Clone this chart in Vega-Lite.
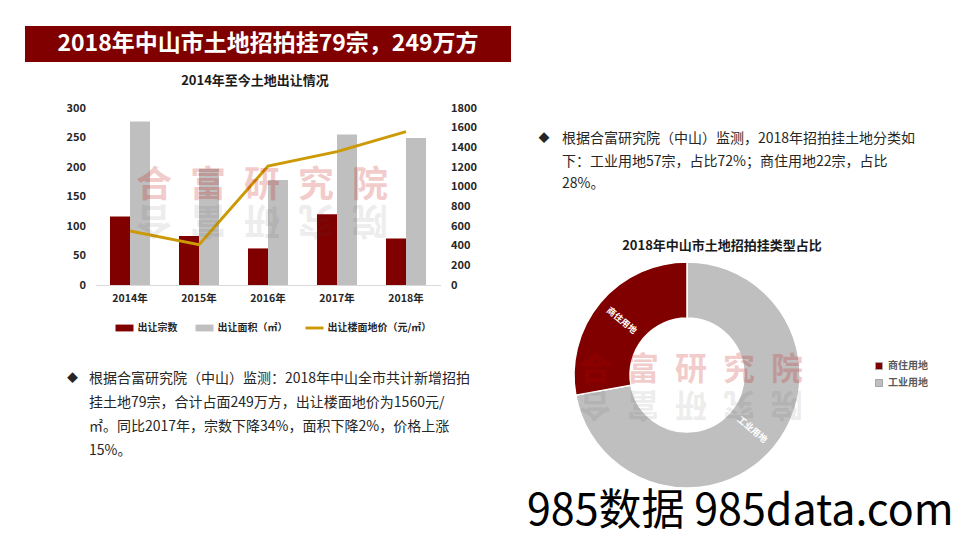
{
  "$schema": "https://vega.github.io/schema/vega-lite/v6.json",
  "background": "white",
  "padding": {"left": 25, "top": 26, "right": 10, "bottom": 0},
  "config": {
    "font": "Noto Sans CJK SC",
    "view": {"stroke": null},
    "axis": {"grid": false, "ticks": false, "domain": false, "labelFont": "Noto Sans CJK SC", "labelFontWeight": "bold", "labelColor": "#262626", "title": null}
  },
  "datasets": {
    "bars": [
      {"year": "2014年", "series": "出让宗数", "value": 116},
      {"year": "2014年", "series": "出让面积（㎡）", "value": 277},
      {"year": "2015年", "series": "出让宗数", "value": 83},
      {"year": "2015年", "series": "出让面积（㎡）", "value": 197},
      {"year": "2016年", "series": "出让宗数", "value": 62},
      {"year": "2016年", "series": "出让面积（㎡）", "value": 178},
      {"year": "2017年", "series": "出让宗数", "value": 120},
      {"year": "2017年", "series": "出让面积（㎡）", "value": 255},
      {"year": "2018年", "series": "出让宗数", "value": 79},
      {"year": "2018年", "series": "出让面积（㎡）", "value": 249}
    ],
    "price": [
      {"year": "2014年", "price": 550},
      {"year": "2015年", "price": 410},
      {"year": "2016年", "price": 1210},
      {"year": "2017年", "price": 1356},
      {"year": "2018年", "price": 1560}
    ],
    "paraL": [
      {"line": 1, "text": "根据合富研究院（中山）监测：2018年中山全市共计新增招拍"},
      {"line": 2, "text": "挂土地79宗，合计占面249万方，出让楼面地价为1560元/"},
      {"line": 3, "text": "㎡。同比2017年，宗数下降34%，面积下降2%，价格上涨"},
      {"line": 4, "text": "15%。"}
    ],
    "paraR": [
      {"line": 1, "text": "根据合富研究院（中山）监测，2018年招拍挂土地分类如"},
      {"line": 2, "text": "下：工业用地57宗，占比72%；商住用地22宗，占比"},
      {"line": 3, "text": "28%。"}
    ],
    "pie": [
      {"type": "工业用地", "count": 57},
      {"type": "商住用地", "count": 22}
    ],
    "wm": [{"wm": "合\u2002富\u2002研\u2002究\u2002院", "rev": "院\u2002究\u2002研\u2002富\u2002合"}]
  },
  "hconcat": [
    {
      "vconcat": [
        {
          "width": 486, "height": 36,
          "view": {"fill": "#800000", "stroke": null},
          "data": {"values": [{"t": "2018年中山市土地招拍挂79宗，249万方"}]},
          "mark": {"type": "text", "color": "white", "fontSize": 23, "fontWeight": "bold", "align": "center", "baseline": "middle"},
          "encoding": {"text": {"field": "t"}}
        },
        {
          "width": 345, "height": 177,
          "title": {"text": "2014年至今土地出让情况", "fontSize": 13, "fontWeight": "bold", "color": "#1a1a1a", "offset": 14, "dx": -13, "anchor": "middle"},
          "layer": [
            {
              "data": {"name": "bars"},
              "mark": {"type": "bar"},
              "encoding": {
                "x": {"field": "year", "type": "nominal", "scale": {"paddingInner": 0.42, "paddingOuter": 0.21},
                      "axis": {"domain": true, "domainColor": "#D9D9D9", "labelAngle": 0, "labelFontSize": 10.5, "labelPadding": 8}},
                "xOffset": {"field": "series", "sort": ["出让宗数", "出让面积（㎡）"]},
                "y": {"field": "value", "type": "quantitative", "scale": {"domain": [0, 300]},
                      "axis": {"values": [0, 50, 100, 150, 200, 250, 300], "labelFontSize": 11, "labelPadding": 10}},
                "color": {"field": "series", "type": "nominal",
                          "scale": {"domain": ["出让宗数", "出让面积（㎡）", "出让楼面地价（元/㎡）"], "range": ["#800000", "#BFBFBF", "#CC9A06"]},
                          "legend": {"orient": "none", "legendX": 20, "legendY": 211, "direction": "horizontal", "title": null,
                                     "symbolType": "M-1,-0.38H1V0.38H-1Z", "symbolSize": 324, "symbolStrokeWidth": 0,
                                     "labelFontSize": 10, "labelFontWeight": "bold", "labelColor": "#262626", "labelOffset": 4, "columnPadding": 18,
                                     "encode": {"symbols": {"update": {"shape": {"signal": "datum.index === 2 ? 'M-1,-0.16H1V0.16H-1Z' : 'M-1,-0.38H1V0.38H-1Z'"}}}}}}
              }
            },
            {
              "data": {"name": "price"},
              "mark": {"type": "line", "strokeWidth": 3},
              "encoding": {
                "x": {"field": "year", "type": "nominal"},
                "y": {"field": "price", "type": "quantitative", "scale": {"domain": [0, 1800]},
                      "axis": {"orient": "right", "format": "d", "values": [0, 200, 400, 600, 800, 1000, 1200, 1400, 1600, 1800], "labelFontSize": 11, "labelPadding": 10}},
                "color": {"datum": "出让楼面地价（元/㎡）"}
              }
            },
            {
              "data": {"name": "wm"},
              "mark": {"type": "text", "fontSize": 36, "fontWeight": "bold", "color": "#C00000", "opacity": 0.2, "dx": -6, "dy": -11},
              "encoding": {"text": {"field": "wm"}}
            },
            {
              "data": {"name": "wm"},
              "mark": {"type": "text", "fontSize": 36, "fontWeight": "bold", "color": "#404040", "opacity": 0.09, "angle": 180, "dx": 6, "dy": -22},
              "encoding": {"text": {"field": "rev"}}
            }
          ],
          "resolve": {"scale": {"y": "independent"}}
        },
        {
          "width": 358, "height": 144,
          "layer": [
            {
              "data": {"name": "paraL"},
              "mark": {"type": "text", "align": "left", "baseline": "middle", "fontSize": 14, "color": "#262626"},
              "encoding": {
                "x": {"datum": 0, "type": "quantitative", "scale": {"domain": [0, 1]}, "axis": null},
                "y": {"field": "line", "type": "quantitative", "scale": {"domain": [-1.0, 4.65], "reverse": true}, "axis": null},
                "text": {"field": "text"}
              }
            },
            {
              "data": {"name": "paraL"},
              "transform": [{"filter": "datum.line === 1"}],
              "mark": {"type": "text", "align": "center", "baseline": "middle", "fontSize": 11, "color": "#262626", "dx": -16.5},
              "encoding": {
                "x": {"datum": 0, "type": "quantitative"},
                "y": {"field": "line", "type": "quantitative"},
                "text": {"value": "◆"}
              }
            }
          ]
        }
      ],
      "spacing": 46,
      "bounds": "flush",
      "center": true,
      "resolve": {"scale": {"color": "independent"}, "legend": {"color": "independent"}}
    },
    {
      "vconcat": [
        {
          "width": 400, "height": 226,
          "layer": [
            {
              "data": {"name": "paraR"},
              "mark": {"type": "text", "align": "left", "baseline": "middle", "fontSize": 14, "color": "#262626", "dx": 35},
              "encoding": {
                "x": {"datum": 0, "type": "quantitative", "scale": {"domain": [0, 1]}, "axis": null},
                "y": {"field": "line", "type": "quantitative", "scale": {"domain": [-3.31, 5.55], "reverse": true}, "axis": null},
                "text": {"field": "text"}
              }
            },
            {
              "data": {"name": "paraR"},
              "transform": [{"filter": "datum.line === 1"}],
              "mark": {"type": "text", "align": "center", "baseline": "middle", "fontSize": 11, "color": "#262626", "dx": 17},
              "encoding": {
                "x": {"datum": 0, "type": "quantitative"},
                "y": {"field": "line", "type": "quantitative"},
                "text": {"value": "◆"}
              }
            }
          ]
        },
        {
          "width": 320, "height": 226,
          "title": {"text": "2018年中山市土地招拍挂类型占比", "fontSize": 13, "fontWeight": "bold", "color": "#1a1a1a", "offset": 6, "dx": 35, "anchor": "middle"},
          "layer": [
            {
              "data": {"name": "pie"},
              "mark": {"type": "arc", "innerRadius": 57, "outerRadius": 113, "stroke": "white", "strokeWidth": 1.5},
              "encoding": {
                "theta": {"field": "count", "type": "quantitative", "stack": true},
                "order": {"field": "count", "sort": "descending"},
                "color": {"field": "type", "type": "nominal",
                          "scale": {"domain": ["商住用地", "工业用地"], "range": ["#800000", "#BFBFBF"]},
                          "legend": {"orient": "none", "legendX": 347, "legendY": 99, "title": null, "symbolType": "square", "symbolSize": 49,
                                     "symbolStrokeColor": "#A6A6A6", "symbolStrokeWidth": 1, "labelFontSize": 10, "labelFontWeight": "bold",
                                     "labelColor": "#595959", "rowPadding": 5, "labelOffset": 4}}
              }
            },
            {
              "data": {"name": "pie"},
              "mark": {"type": "text", "radius": 85, "angle": 40, "color": "white", "fontSize": 9, "fontWeight": "bold"},
              "encoding": {
                "theta": {"field": "count", "type": "quantitative", "stack": true},
                "order": {"field": "count", "sort": "descending"},
                "text": {"field": "type"}
              }
            },
            {
              "data": {"name": "wm"},
              "mark": {"type": "text", "fontSize": 32, "fontWeight": "bold", "color": "#C00000", "opacity": 0.2, "dx": 4, "dy": -5},
              "encoding": {"text": {"field": "wm"}}
            },
            {
              "data": {"name": "wm"},
              "mark": {"type": "text", "fontSize": 32, "fontWeight": "bold", "color": "#404040", "opacity": 0.09, "angle": 180, "dx": -4, "dy": -29},
              "encoding": {"text": {"field": "rev"}}
            }
          ]
        },
        {
          "width": 423, "height": 42,
          "data": {"values": [{"t": "985数据 985data.com"}]},
          "mark": {"type": "text", "align": "left", "baseline": "middle", "fontSize": 43, "color": "black", "dy": -7},
          "encoding": {
            "x": {"datum": 0, "type": "quantitative", "scale": {"domain": [0, 1]}, "axis": null},
            "text": {"field": "t"}
          }
        }
      ],
      "spacing": 10,
      "bounds": "flush",
      "resolve": {"scale": {"color": "independent"}, "legend": {"color": "independent"}}
    }
  ],
  "spacing": 16,
  "bounds": "full",
  "resolve": {"scale": {"color": "independent"}, "legend": {"color": "independent"}}
}
